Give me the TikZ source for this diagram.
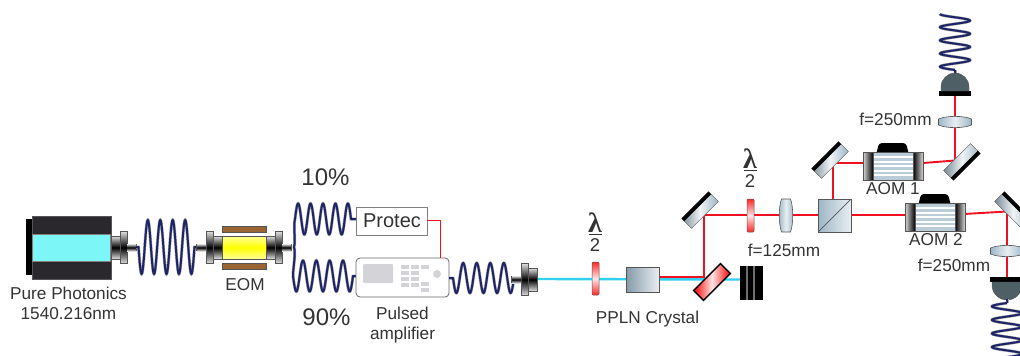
\documentclass[tikz,border=0pt]{standalone}
\usepackage{fontspec}
\setmainfont{Liberation Sans}
\newfontfamily\lamfont{Liberation Serif}
\usetikzlibrary{calc}
\definecolor{coilc}{HTML}{1E2468}
\definecolor{labelc}{HTML}{333333}
\definecolor{beamr}{HTML}{F01020}
\definecolor{beamc}{HTML}{30D0F0}
\definecolor{opticlo}{HTML}{9DB6C6}
\definecolor{opticmid}{HTML}{E8EEF2}
\definecolor{edgeg}{HTML}{555555}
\definecolor{btn}{HTML}{D4D4D8}
\definecolor{bodyc}{HTML}{2B282D}
\definecolor{cavc}{HTML}{7DF6F8}
\definecolor{domec}{HTML}{4F5F66}
\newcommand{\fs}[1]{\fontsize{#1}{#1}\selectfont}
\tikzset{
  x=1pt,y=-1pt,
  lbl/.style={inner sep=0pt,text=labelc,align=center,font=\fs{17.2}},
  coilline/.style={draw=coilc,line width=2pt,line join=round,preaction={draw=gray!70,line width=3pt}},
  red beam/.style={draw=beamr,line width=1.9pt},
  cyan beam/.style={draw=beamc,line width=2.4pt},
  box/.style={rectangle,inner sep=0pt,outer sep=0pt,anchor=north west},
  metal/.style={draw=edgeg,line width=.4pt,top color=white!75!gray,bottom color=white!75!gray,middle color=black},
  optic/.style={draw=edgeg,line width=.6pt,left color=opticlo,right color=opticlo,middle color=opticmid},
  mirrorbody/.style={rectangle,draw=edgeg,line width=.4pt,inner sep=0pt,outer sep=0pt,minimum width=38pt,minimum height=14pt,left color=#1!75!black,right color=#1,middle color=white!85!#1},
  waveplate/.style={rectangle,rounded corners=1pt,draw=edgeg,line width=.5pt,inner sep=0pt,minimum width=7pt,minimum height=33pt,top color=red!85!white,bottom color=red!85!white,middle color=white!90!red},
}
% horizontal coil: x1,x2 of the winding, yc, half-height, sign; stubs reach sx1,sx2
\newcommand{\coilH}[7]{%
  \draw[coilline] (#6,#3) -- plot[domain=0:1620,samples=145,smooth,variable=\t]
    ({#1+\t/1620*(#2-#1)},{#3+#5*#4*sin(\t)}) -- (#7,#3);}
% vertical coil: y1,y2, xc, half-width, turns, phase
\newcommand{\coilV}[6]{%
  \draw[coilline] plot[domain=0:#5*360,samples=#5*32+1,smooth,variable=\t]
    ({#3-#4*sin(\t+#6)},{#1+\t/(#5*360)*(#2-#1)});}
% fibre connector
\newcommand{\fibreconn}[3]{%
  \begin{scope}[shift={(#1,#2)},xscale=#3]
    \fill[edgeg] (17,-3.5) rectangle (26,3.5);
    \path[metal] (0,-11.5) rectangle (9,11.5);
    \path[metal] (9,-16) rectangle (16,16);
    \shade[top color=white!75!gray,bottom color=white!75!gray,middle color=black] (16,-3.5) rectangle (25,3.5);
  \end{scope}}
% mirror: name, pos, rotation, colour, black side, other side
\newcommand{\mirror}[6]{%
  \node[mirrorbody=#4,rotate=#3] (#1) at (#2) {};
  \fill[black] (#1.#5 west) -- (#1.#5 east) -- ($(#1.#5 east)!.27!(#1.#6 east)$) -- ($(#1.#5 west)!.27!(#1.#6 west)$) -- cycle;}
% AOM: name, x, y(top)
\newcommand{\aom}[3]{%
  \begin{scope}[shift={(#2,#3)}]
    \fill[black,rounded corners=3pt] (13,3) -- (16,-9) -- (43,-9) -- (46,3) -- cycle;
    \path[draw=edgeg,line width=.4pt,left color=white!70!gray,right color=black] (0,0) rectangle (10,28);
    \path[draw=edgeg,line width=.4pt,left color=black,right color=white!70!gray] (50,0) rectangle (60,28);
    \path[draw=edgeg,line width=.4pt,fill=opticlo!70!white] (10,0) rectangle (50,28);
    \foreach \yy in {4,8.5,13,17.5,22}{\fill[white] (10.5,\yy) rectangle (49.5,\yy+2);}
  \end{scope}}
\newcommand{\lensV}[2]{%
  \path[optic] (#2) ++(-4.5,-16.5) -- ++(9,0) .. controls +(3,8) and +(3,-8) .. ++(0,33) -- ++(-9,0) .. controls +(-3,-8) and +(-3,8) .. ++(0,-33) -- cycle;
  \coordinate (#1) at (#2);}
\newcommand{\lensH}[2]{%
  \path[draw=edgeg,line width=.6pt,left color=opticlo,right color=opticlo,middle color=opticmid] (#2) ++(-16.5,-3) .. controls +(8,-3.5) and +(-8,-3.5) .. ++(33,0) -- ++(0,6) .. controls +(-8,3.5) and +(8,3.5) .. ++(-33,0) -- cycle;
  \coordinate (#1) at (#2);}
% half-wave label: name, x, top y
\newcommand{\halfwave}[3]{%
  \node[inner sep=0pt,text=labelc,font=\lamfont\bfseries\fs{28}] (#1num) at (#2,#3+9.5) {λ};
  \coordinate (#1a) at (#2-6.5,#3+21);
  \coordinate (#1b) at (#2+6.5,#3+21);
  \draw[labelc,line width=.9pt] (#1a) -- (#1b);
  \node[inner sep=0pt,text=labelc,font=\fs{18.5}] (#1den) at (#2,#3+32.5) {2};}
\begin{document}
\begin{tikzpicture}
\useasboundingbox (0,0) rectangle (1020,356);
\path[clip] (0,0) rectangle (1020,356);

% --- beams underneath
\coordinate (fibreout) at (537,279);
\coordinate (dumpin) at (742,279.5);
\coordinate (cubeW) at (818,215);
\coordinate (m1c) at (704,215);
\coordinate (dc) at (704,277);
\draw[cyan beam] (fibreout) -- (dumpin);
\draw[red beam] (659,277) -- (dc) -- (m1c) -- (cubeW);
\draw[red beam] (833,199) -- (833,163) -- (863,163);
\draw[red beam] (923,163) -- (955,160.5) -- (955,96);
\draw[red beam] (851,215) -- (905,215);
\draw[red beam] (964,214) -- (1007,211.5) -- (1007,277);

% --- laser
\fill[black] (26,219) rectangle (33,275);
\node[box,draw=edgeg,line width=.4pt,fill=bodyc,minimum width=79pt,minimum height=63pt] (laser) at (32,216) {};
\node[box,fill=cavc,draw=gray,line width=.3pt,minimum width=78pt,minimum height=27pt] (lasercav) at (32.5,234) {};
\fibreconn{111}{247.5}{1}
\coilH{138.5}{194.5}{247}{27}{1}{136}{197}

% --- EOM
\fibreconn{222}{247.5}{-1}
\fibreconn{266}{247.5}{1}
\node[box,draw=edgeg,line width=.4pt,top color=white!60!yellow,bottom color=white!60!yellow,middle color=yellow,minimum width=44pt,minimum height=23pt] (eom) at (222,236) {};
\node[box,draw=edgeg,line width=.4pt,fill=brown!80!black,minimum width=44pt,minimum height=6pt] (eomt) at (222,226) {};
\node[box,draw=edgeg,line width=.4pt,fill=brown!80!black,minimum width=44pt,minimum height=6pt] (eomb) at (222,263) {};
\node[lbl] (eomlab) at (245,285) {EOM};
\node[lbl] (laserlab) at (68.5,303.5) {Pure Photonics\\[3pt]1540.216nm};

% --- splitter branches
\coordinate (split) at (294,247);
\draw[coilline] (split) .. controls (296,240) and (293,228) .. (295,219);
\draw[coilline] (split) .. controls (296,254) and (293,268) .. (293,276);
\coilH{295}{351}{219}{15.5}{-1}{295}{356}
\coilH{293}{353}{276}{15.5}{1}{293}{356}
\node[lbl,font=\fs{24}] (p10) at (325.5,177) {10\%};
\node[lbl,font=\fs{24}] (p90) at (326.5,317) {90\%};

% --- Protec
\node[box,draw=gray,line width=.7pt,fill=white,minimum width=71pt,minimum height=28pt] (protec) at (356,207) {};
\node[lbl,font=\fs{20}] (proteclab) at (392,221) {Protec};

% --- amplifier
\node[box,draw=gray!80!black,line width=.8pt,fill=white,rounded corners=4pt,minimum width=93pt,minimum height=39pt] (amp) at (356,258) {};
\draw[draw=beamr,line width=.8pt] (protec.east) ++(0,-1) -- ++(13,0) -- (440,258);
\fill[btn,rounded corners=1pt] (363,264) rectangle (393,283);
\foreach \yy in {265,271,277,283}{\fill[btn] (401,\yy) rectangle (409,\yy+3.5);\fill[btn] (411,\yy) rectangle (419,\yy+3.5);}
\fill[btn] (421,265) rectangle (429,268.5);
\fill[btn] (421,282) rectangle (429,286);
\fill[btn] (421,288) rectangle (429,292);
\fill[btn] (437,274) circle (4);
\node[lbl] (amplab) at (402.5,325) {Pulsed\\[3pt]amplifier};

% --- coil to output connector
\coilH{453}{514}{278}{15}{1}{449}{514}
\fibreconn{537}{279.5}{-1}

% --- first half-wave plate, crystal
\node[waveplate] (hwp1) at (595.5,278.5) {};
\halfwave{hwa}{595}{213}
\node[box,draw=edgeg,line width=.7pt,left color=opticlo!85!black,right color=opticmid,minimum width=33pt,minimum height=25pt] (ppln) at (626,267) {};
\node[lbl] (ppln lab) at (647.5,319) {PPLN Crystal};

% --- dichroic and dump
\node[rectangle,draw=black,line width=1.4pt,inner sep=0pt,minimum width=38pt,minimum height=14pt,rotate=45,left color=red,right color=red,middle color=white!90!red] (dich) at (712,282) {};
\mirror{m1}{700,210}{45}{opticlo}{north}{south}
\fill[black] (740,266) rectangle (763,299.5);
\foreach \xx in {745,752}{\shade[left color=black,right color=black,middle color=gray!70] (\xx,266) rectangle (\xx+3,299.5);}
\coordinate (dump) at (751,283);

% --- second hwp and lens
\node[waveplate] (hwp2) at (750.5,215.5) {};
\halfwave{hwb}{750}{149}
\lensV{lens1}{786,215.5}
\node[lbl] (f125) at (784,250) {f=125mm};

% --- cube
\node[box,draw=edgeg,line width=.7pt,left color=opticlo,right color=opticmid,minimum width=33pt,minimum height=33pt] (cube) at (818,199) {};
\draw[edgeg,line width=.7pt] (cube.south west) -- (cube.north east);

% --- arm 1
\mirror{m2}{830,160}{45}{opticlo}{north}{south}
\aom{a1}{863}{152}
\node[lbl] (a1lab) at (893,189) {AOM 1};
\mirror{m3}{962,162}{45}{opticlo}{south}{north}
\lensH{lens2}{955,122}
\node[lbl] (f250a) at (895.5,119) {f=250mm};
\fill[black] (939,91) rectangle (971,96);
\path[fill=domec,draw=edgeg,line width=.4pt] (941,91) -- (941,87) arc[start angle=180,end angle=360,radius=14] -- (969,91) -- cycle;
\coilV{14}{70}{955}{15}{4.25}{90}
\draw[coilline] (955,70) -- (955,73);

% --- arm 2
\aom{a2}{905}{203}
\node[lbl] (a2lab) at (936,240) {AOM 2};
\mirror{m4}{1013,210}{-45}{opticlo}{north}{south}
\lensH{lens3}{1007,251}
\node[lbl] (f250b) at (954,265) {f=250mm};
\fill[black] (990,277) rectangle (1024,282);
\path[fill=domec,draw=edgeg,line width=.4pt] (992,282) -- (992,285) arc[start angle=180,end angle=0,radius=15] -- (1022,282) -- cycle;
\draw[coilline] (1007,299) -- (1007,303);
\coilV{303}{364}{1007}{15}{4.5}{0}
\end{tikzpicture}
\end{document}
